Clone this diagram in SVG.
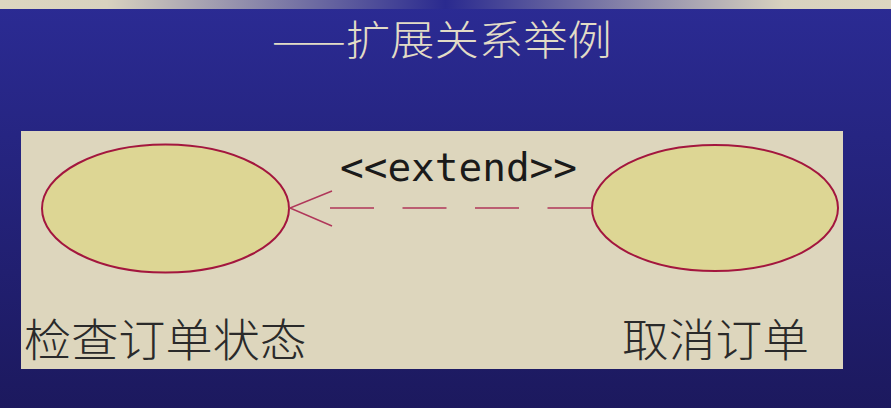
<svg xmlns="http://www.w3.org/2000/svg" width="891" height="408" viewBox="0 0 891 408">
<defs>
<linearGradient id="bg" x1="0" y1="0" x2="0" y2="1">
<stop offset="0" stop-color="#2b2b94"/>
<stop offset="1" stop-color="#1c195e"/>
</linearGradient>
<linearGradient id="bar" x1="0" y1="0" x2="1" y2="0">
<stop offset="0" stop-color="#ddd6c0"/>
<stop offset="0.12" stop-color="#d8d2bf"/>
<stop offset="0.5" stop-color="#2a2a8f"/>
<stop offset="0.88" stop-color="#d8d2bf"/>
<stop offset="1" stop-color="#ddd6c0"/>
</linearGradient>
<style>
.uc{fill:#ddd694;stroke:#a3163e;stroke-width:2}
.lbl{font-family:"Noto Sans CJK SC","Noto Sans",sans-serif;font-size:45px;fill:#2a2a2a;font-weight:300}
.conn{stroke:#b0375a;stroke-width:1.5;fill:none}
</style>
</defs>
<rect x="0" y="0" width="891" height="408" fill="url(#bg)"/>
<rect x="0" y="0" width="891" height="9" fill="url(#bar)"/>
<text x="442" y="55" text-anchor="middle" font-family="Noto Sans CJK SC, sans-serif" font-weight="300" font-size="41" fill="#e2dcc6" textLength="340" lengthAdjust="spacingAndGlyphs">——扩展关系举例</text>
<rect x="21" y="131" width="822" height="238" fill="#ddd6bd"/>
<g id="check-order">
<ellipse class="uc" cx="165.5" cy="208.5" rx="123.5" ry="64"/>
<text class="lbl" x="24" y="357" textLength="283" lengthAdjust="spacingAndGlyphs">检查订单状态</text>
</g>
<g id="cancel-order">
<ellipse class="uc" cx="715" cy="208" rx="123" ry="63"/>
<text class="lbl" x="622" y="357" textLength="187" lengthAdjust="spacingAndGlyphs">取消订单</text>
</g>
<g id="connectors">
<line class="conn" x1="330" y1="208" x2="592" y2="208" stroke-dasharray="44 28.5"/>
<polyline class="conn" points="332,191 290,208 332,226" stroke-width="2"/>
<text x="340" y="181" font-family="DejaVu Sans Mono, monospace" font-size="39" fill="#1a1a1a" textLength="237" lengthAdjust="spacingAndGlyphs">&lt;&lt;extend&gt;&gt;</text>
</g>
</svg>
